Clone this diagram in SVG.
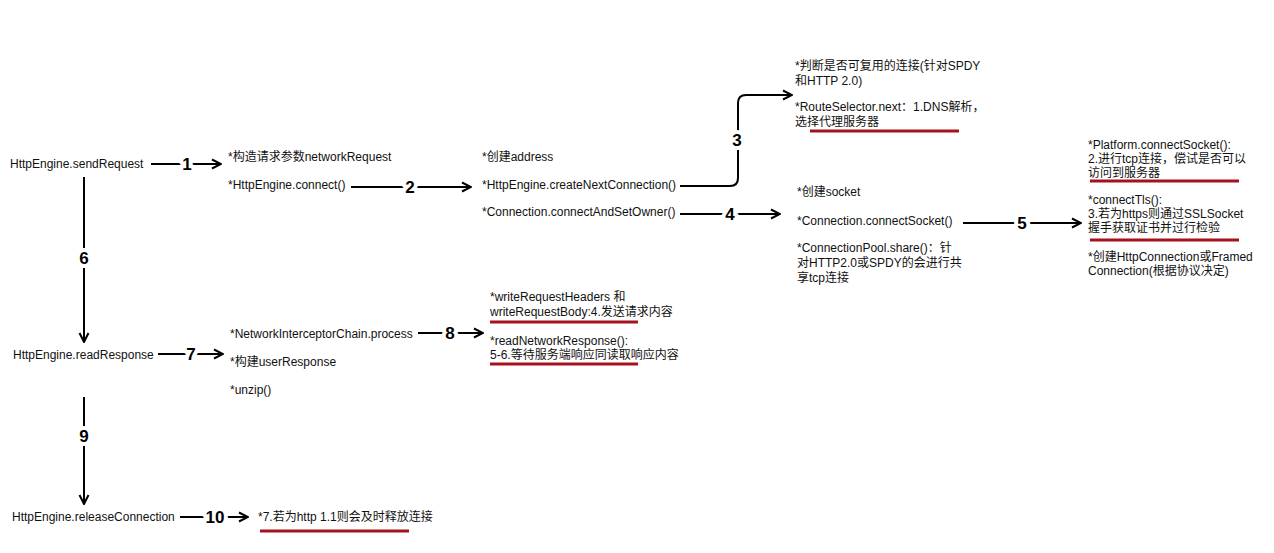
<svg xmlns="http://www.w3.org/2000/svg" width="1274" height="553" viewBox="0 0 1274 553">
<style>
.t{font-family:"Liberation Sans","Noto Sans CJK SC",Arial,sans-serif;font-size:12px;fill:#111}
.n{font-family:"Liberation Sans",Arial,sans-serif;font-size:17px;font-weight:bold;fill:#000;text-anchor:middle;stroke:#fff;stroke-width:8px;paint-order:stroke;stroke-linejoin:round}
.c{fill:none;stroke:#000;stroke-width:2}
.u{stroke:#a5121e;stroke-width:3}
</style>
<defs>
<marker id="ah" viewBox="0 0 12 12" refX="11" refY="6" markerWidth="12" markerHeight="12" markerUnits="userSpaceOnUse" orient="auto">
<polyline points="2,1.5 11,6 2,10.5" fill="none" stroke="#000" stroke-width="2"/>
</marker>
</defs>
<rect width="1274" height="553" fill="#fff"/>
<g id="connectors">
<line class="c" x1="151" y1="164" x2="221" y2="164" marker-end="url(#ah)"/>
<text class="n" x="187" y="170">1</text>
<line class="c" x1="351" y1="187" x2="471" y2="187" marker-end="url(#ah)"/>
<text class="n" x="410" y="193">2</text>
<path class="c" d="M680,186 H730 Q738,186 738,178 V103 Q738,95 746,95 H792" marker-end="url(#ah)"/>
<text class="n" x="737" y="146">3</text>
<line class="c" x1="680" y1="214" x2="780" y2="214" marker-end="url(#ah)"/>
<text class="n" x="730" y="220">4</text>
<line class="c" x1="963" y1="223" x2="1081" y2="223" marker-end="url(#ah)"/>
<text class="n" x="1022" y="229">5</text>
<line class="c" x1="84" y1="177" x2="84" y2="342" marker-end="url(#ah)"/>
<text class="n" x="84" y="264">6</text>
<line class="c" x1="158" y1="354" x2="223" y2="354" marker-end="url(#ah)"/>
<text class="n" x="191" y="360">7</text>
<line class="c" x1="418" y1="333" x2="483" y2="333" marker-end="url(#ah)"/>
<text class="n" x="450" y="339">8</text>
<line class="c" x1="84" y1="397" x2="84" y2="504" marker-end="url(#ah)"/>
<text class="n" x="84" y="442">9</text>
<line class="c" x1="180" y1="517" x2="248" y2="517" marker-end="url(#ah)"/>
<text class="n" x="215" y="523">10</text>
</g>
<g id="sendRequest"><text class="t" x="10" y="168">HttpEngine.sendRequest</text></g>
<g id="readResponse"><text class="t" x="13" y="359">HttpEngine.readResponse</text></g>
<g id="releaseConnection"><text class="t" x="12" y="521">HttpEngine.releaseConnection</text></g>
<g id="sendSteps">
<text class="t" x="228" y="161">*构造请求参数networkRequest</text>
<text class="t" x="228" y="189">*HttpEngine.connect()</text>
</g>
<g id="connectSteps">
<text class="t" x="482" y="161">*创建address</text>
<text class="t" x="482" y="189">*HttpEngine.createNextConnection()</text>
<text class="t" x="482" y="216">*Connection.connectAndSetOwner()</text>
</g>
<g id="routeSteps">
<text class="t" x="795" y="70">*判断是否可复用的连接(针对SPDY</text>
<text class="t" x="795" y="85">和HTTP 2.0)</text>
<text class="t" x="795" y="111">*RouteSelector.next：1.DNS解析，</text>
<text class="t" x="795" y="126">选择代理服务器</text>
<line class="u" x1="810" y1="131" x2="959" y2="131"/>
</g>
<g id="socketSteps">
<text class="t" x="797" y="196">*创建socket</text>
<text class="t" x="797" y="225">*Connection.connectSocket()</text>
<text class="t" x="797" y="252">*ConnectionPool.share()：针</text>
<text class="t" x="797" y="267">对HTTP2.0或SPDY的会进行共</text>
<text class="t" x="797" y="282">享tcp连接</text>
</g>
<g id="platformSteps">
<text class="t" x="1088" y="149">*Platform.connectSocket():</text>
<text class="t" x="1088" y="163">2.进行tcp连接，偿试是否可以</text>
<text class="t" x="1088" y="177">访问到服务器</text>
<line class="u" x1="1090" y1="181" x2="1239" y2="181"/>
<text class="t" x="1088" y="204">*connectTls():</text>
<text class="t" x="1088" y="218">3.若为https则通过SSLSocket</text>
<text class="t" x="1088" y="232">握手获取证书并过行检验</text>
<line class="u" x1="1090" y1="240" x2="1239" y2="240"/>
<text class="t" x="1088" y="261">*创建HttpConnection或Framed</text>
<text class="t" x="1088" y="275">Connection(根据协议决定)</text>
</g>
<g id="responseSteps">
<text class="t" x="230" y="338">*NetworkInterceptorChain.process</text>
<text class="t" x="230" y="366">*构建userResponse</text>
<text class="t" x="230" y="394">*unzip()</text>
</g>
<g id="networkSteps">
<text class="t" x="490" y="301">*writeRequestHeaders 和</text>
<text class="t" x="490" y="316">writeRequestBody:4.发送请求内容</text>
<line class="u" x1="490" y1="322" x2="638" y2="322"/>
<text class="t" x="490" y="345">*readNetworkResponse():</text>
<text class="t" x="490" y="359">5-6.等待服务端响应同读取响应内容</text>
<line class="u" x1="490" y1="364" x2="638" y2="364"/>
</g>
<g id="releaseSteps">
<text class="t" x="258" y="521">*7.若为http 1.1则会及时释放连接</text>
<line class="u" x1="260" y1="531" x2="409" y2="531"/>
</g>
</svg>
